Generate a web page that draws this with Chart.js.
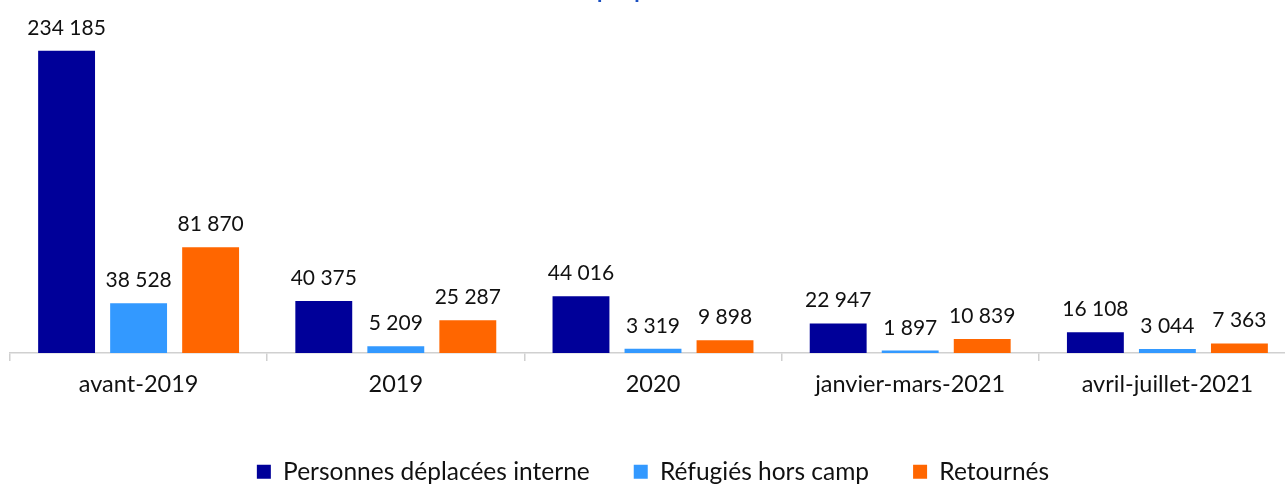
<!DOCTYPE html>
<html lang="fr">
<head>
<meta charset="utf-8">
<script src="https://cdn.jsdelivr.net/npm/chart.js@4"></script>
<style>
  html, body { margin: 0; padding: 0; background: #fff; overflow: hidden; }
  body { width: 1285px; height: 486px; position: relative; }
  #wrap { position: absolute; left: 0; top: -19px; width: 1340px; height: 513px; }
</style>
</head>
<body>
<div id="wrap"><canvas id="chart"></canvas></div>
<script>
// Values
const periods = ["avant-2019", "2019", "2020", "janvier-mars-2021", "avril-juillet-2021"];
const pdi = [234185, 40375, 44016, 22947, 16108];
const refugies = [38528, 5209, 3319, 1897, 3044];
const retournes = [81870, 25287, 9898, 10839, 7363];

const FONT = "Lato, 'Open Sans', sans-serif";

// thousands with a plain space, like the source chart
function fmt(v) {
    return String(v).replace(/\B(?=(\d{3})+(?!\d))/g, " ");
}

// Value labels above each bar
const valueLabels = {
    id: "valueLabels",
    afterDatasetsDraw(chart) {
        const ctx = chart.ctx;
        ctx.save();
        ctx.font = "21px " + FONT;
        ctx.fillStyle = "#111";
        ctx.textAlign = "center";
        ctx.textBaseline = "alphabetic";
        chart.data.datasets.forEach((ds, i) => {
            chart.getDatasetMeta(i).data.forEach((bar, j) => {
                ctx.fillText(fmt(ds.data[j]), bar.x, bar.y - 16);
            });
        });
        ctx.restore();
    }
};

new Chart(document.getElementById("chart"), {
    type: "bar",
    data: {
        labels: periods,
        datasets: [
            { label: "Personnes déplacées interne", data: pdi, backgroundColor: "#000099" },
            { label: "Réfugiés hors camp", data: refugies, backgroundColor: "#3399ff" },
            { label: "Retournés", data: retournes, backgroundColor: "#ff6600" }
        ]
    },
    options: {
        responsive: true,
        maintainAspectRatio: false,
        animation: false,
        categoryPercentage: 0.84,
        barPercentage: 0.79,
        layout: { padding: { left: 10, right: 44, top: 0, bottom: 0 } },
        plugins: {
            title: {
                // only the bottom of this line shows at the top of the picture
                display: true,
                text: "par période",
                color: "#1a4fc0",
                font: { family: FONT, size: 22, weight: "bold", lineHeight: 0.86 },
                padding: { top: 0, bottom: 17.48 }
            },
            legend: {
                position: "bottom",
                labels: {
                    color: "#111",
                    font: { family: FONT, size: 24.5 },
                    boxWidth: 14,
                    boxHeight: 14,
                    padding: 44
                }
            },
            tooltip: { enabled: false }
        },
        scales: {
            x: {
                grid: {
                    display: true,
                    drawOnChartArea: false,
                    tickLength: 8,
                    color: "#d0d0d0",
                    lineWidth: 1.5
                },
                border: { display: true, color: "#d0d0d0", width: 1.5 },
                ticks: {
                    color: "#111",
                    font: { family: FONT, size: 23.5 },
                    padding: 9,
                    maxRotation: 0
                },
                afterFit: (s) => { s.height = 62.5; }
            },
            y: {
                display: false,
                min: 0,
                max: 260000
            }
        }
    },
    plugins: [valueLabels]
});
</script>
</body>
</html>
